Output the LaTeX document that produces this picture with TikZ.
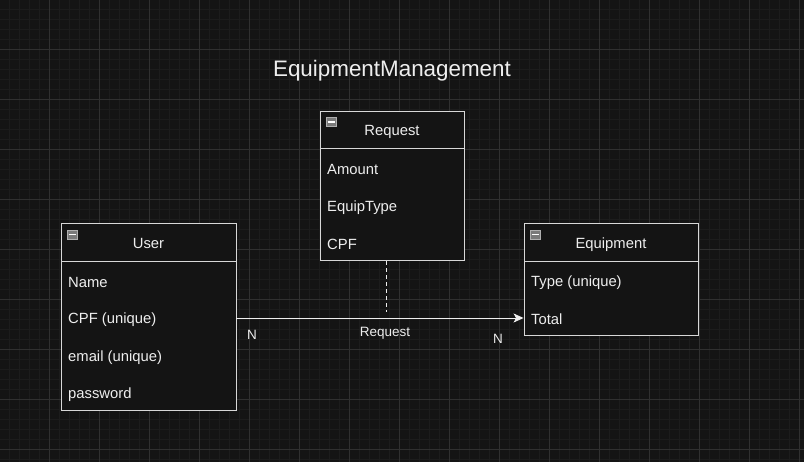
\documentclass[tikz,border=0pt]{standalone}
\usepackage{fontspec}
\setmainfont{Liberation Sans}
\usetikzlibrary{arrows.meta, positioning}
\definecolor{bgcolor}{HTML}{141414}
\definecolor{minorcolor}{HTML}{1C1C1C}
\definecolor{majorcolor}{HTML}{303030}
\definecolor{linecolor}{HTML}{D8D8D8}
\definecolor{txtcolor}{HTML}{EEEEEE}
\definecolor{iconcolor}{HTML}{7A7A7A}

\begin{document}
\begin{tikzpicture}[
    x=1pt, y=-1pt,
    head/.style={rectangle, draw=linecolor, line width=0.9pt, fill=bgcolor, minimum height=38pt, inner sep=0pt, text height=12.5pt, text depth=0pt, font=\fontsize{14.8}{16}\selectfont, text=txtcolor},
    body/.style={rectangle, draw=linecolor, line width=0.9pt, fill=bgcolor, inner sep=0pt},
    field/.style={anchor=west, inner sep=0pt, font=\fontsize{14.8}{16}\selectfont, text=txtcolor},
    lbl/.style={inner sep=0pt, font=\fontsize{13.5}{15}\selectfont, text=txtcolor},
    icon/.style={rectangle, draw=iconcolor!60, fill=iconcolor, minimum width=10pt, minimum height=9pt, inner sep=0pt,
        path picture={\draw[white, line width=1.2pt] ([xshift=1.5pt]path picture bounding box.west) -- ([xshift=-1.5pt]path picture bounding box.east);}},
    conn/.style={draw=txtcolor, line width=0.9pt}
]
\useasboundingbox (0,0) rectangle (804,462);
\fill[bgcolor] (0,0) rectangle (804,462);

% -- grid --
\foreach \x in {9,19,...,799} \draw[minorcolor, line width=0.6pt] (\x,0) -- (\x,462);
\foreach \y in {9,19,...,459} \draw[minorcolor, line width=0.6pt] (0,\y) -- (804,\y);
\foreach \x in {49,99,...,799} \draw[majorcolor, line width=0.7pt] (\x,0) -- (\x,462);
\foreach \y in {49,99,...,449} \draw[majorcolor, line width=0.7pt] (0,\y) -- (804,\y);

% -- title --
\node[inner sep=0pt, font=\fontsize{22.4}{26}\selectfont, text=txtcolor] (title) at (392,71) {EquipmentManagement};

% -- User --
\node[head, minimum width=175pt] (user) at (148.5,242) {User};
\node[body, minimum width=175pt, minimum height=149pt, below=0pt of user] (userbody) {};
\node[icon] (usericon) at (72,234.5) {};
\node[field] (uname) at (68,282.5) {Name};
\node[field] (ucpf) at (68,319.5) {CPF (unique)};
\node[field] (umail) at (68,357.5) {email (unique)};
\node[field] (upass) at (68,394.5) {password};

% -- Request --
\node[head, minimum width=144pt, minimum height=37pt] (request) at (392,129.5) {Request};
\node[body, minimum width=144pt, minimum height=112pt, below=0pt of request] (requestbody) {};
\node[icon] (requesticon) at (331,122) {};
\node[field] (ramount) at (327,169.5) {Amount};
\node[field] (rtype) at (327,207.5) {EquipType};
\node[field] (rcpf) at (327,244.5) {CPF};

% -- Equipment --
\node[head, minimum width=174pt] (equip) at (611,242) {Equipment};
\node[body, minimum width=174pt, minimum height=74pt, below=0pt of equip] (equipbody) {};
\node[icon] (equipicon) at (535,234.5) {};
\node[field] (etype) at (531,282.5) {Type (unique)};
\node[field] (etotal) at (531,319) {Total};

% -- relation --
\coordinate (relrow) at (0,318);
\draw[conn, -{Stealth[length=10pt, width=9pt, inset=2.5pt]}] (userbody.east |- relrow) -- (equipbody.west |- relrow);
\coordinate (dashend) at (386,312);
\draw[conn, dashed, dash pattern=on 4pt off 3pt] (requestbody.south -| dashend) -- (dashend);
\node[lbl] (rellbl) at (385,333) {Request};
\node[lbl] (nleft) at (252,335) {N};
\node[lbl] (nright) at (498,339) {N};

\end{tikzpicture}
\end{document}
